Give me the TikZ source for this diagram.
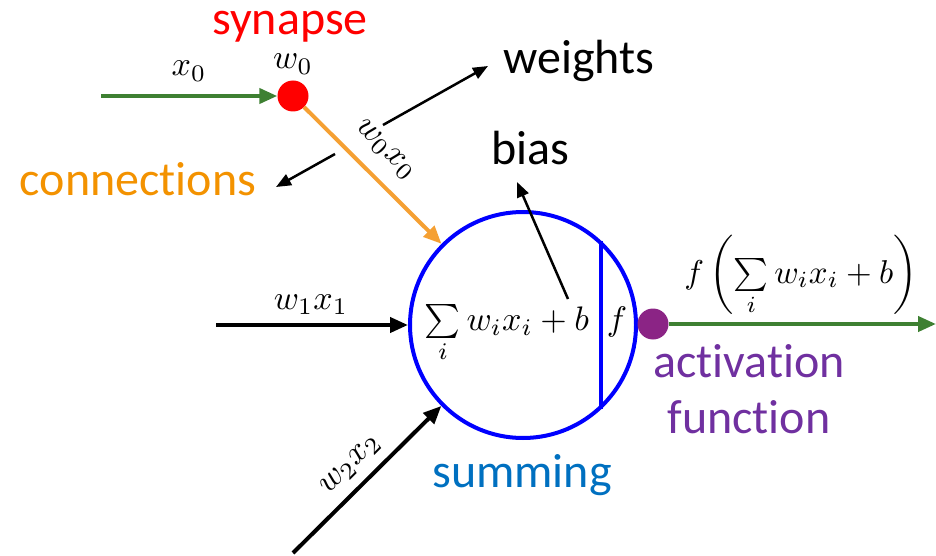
\documentclass[tikz,border=0pt]{standalone}
\usepackage{graphicx}
\usepackage{amsmath}
\usepackage{fontspec}
\newfontfamily\carlito[Ligatures=NoCommon]{Carlito}
\usetikzlibrary{arrows.meta}
\definecolor{ngreen}{HTML}{3E8032}
\definecolor{norange}{HTML}{F5A033}
\definecolor{ctext}{HTML}{F39200}
\definecolor{nblue}{HTML}{0000FF}
\definecolor{npurple}{HTML}{8B2485}
\definecolor{atext}{HTML}{7030A0}
\definecolor{stext}{HTML}{0070C0}
\newcommand{\scmath}[2][3.4]{\scalebox{#1}{\normalsize #2}}
\begin{document}
\begin{tikzpicture}[x=1pt,y=-1pt,
  lbl/.style={font=\carlito\fontsize{48}{56}\selectfont, inner sep=0pt},
  mth/.style={inner sep=0pt},
  bigarrow/.style={line width=4pt, -{Triangle[length=18pt,width=15pt]}},
  thinarrow/.style={line width=2.5pt, -{Triangle[length=15pt,width=12pt]}},
  dot/.style={circle, inner sep=0pt, minimum size=31pt}
]
\useasboundingbox (0,0) rectangle (936,556);

% neuron body
\node[circle, draw=nblue, line width=4pt, minimum size=226pt, inner sep=0pt] (neuron) at (523,325) {};
\draw[nblue, line width=4pt] (neuron.47.7) -- (neuron.-47.7);

% dots
\node[dot, fill=red] (syn) at (293,96) {};
\node[dot, fill=npurple] (act) at (653,324) {};

% coordinates
\coordinate (x0s) at (101,96);
\coordinate (x1s) at (216,325);
\coordinate (x2s) at (293,553);
\coordinate (outend) at (936,324);
\coordinate (bs) at (568,299);
\coordinate (bt) at (517,182);
\coordinate (ws) at (383,125);
\coordinate (wt) at (488,66);
\coordinate (cs) at (335,154);
\coordinate (ct) at (276,187);

% connectors
\draw[bigarrow, ngreen] (x0s) -- (syn);
\draw[bigarrow, norange] (syn) -- (neuron);
\draw[bigarrow, black] (x1s) -- (neuron);
\draw[bigarrow, black] (x2s) -- (neuron);
\draw[bigarrow, ngreen] (act) -- (outend);
\draw[thinarrow] (bs) -- (bt);
\draw[thinarrow] (ws) -- (wt);
\draw[thinarrow] (cs) -- (ct);

% text labels
\node[lbl, text=red, anchor=base] (tsyn) at (290,35) {synapse};
\node[lbl, anchor=base] (tw) at (579,74) {weights};
\node[lbl, anchor=base] (tb) at (530,165) {bias};
\node[lbl, text=ctext, anchor=base] (tc) at (138,195) {connections};
\node[lbl, text=stext, anchor=base] (ts) at (522,487) {summing};
\node[lbl, text=atext, anchor=base, align=center] (ta) at (749,433) {activation\\function};

% math labels
\node[mth, anchor=base] (mx0) at (189,76) {\scmath{$x_0$}};
\node[mth, anchor=base] (mw0) at (293,69) {\scmath{$w_0$}};
\node[mth, anchor=base] (mw1) at (311,309) {\scmath{$w_1x_1$}};
\node[mth, rotate=-45] (mw0x0) at (385,150) {\scmath{$w_0x_0$}};
\node[mth, rotate=45] (mw2x2) at (351,465) {\scmath{$w_2x_2$}};
\node[mth, anchor=base] (msum) at (507,330) {\scmath{$\sum\limits_i w_ix_i+b$}};
\node[mth, anchor=base] (mf) at (617,330) {\scmath{$f$}};
\node[mth, anchor=base] (mout) at (801,283) {\scmath[3.3]{$f\left(\sum\limits_i w_ix_i+b\right)$}};
\end{tikzpicture}
\end{document}
